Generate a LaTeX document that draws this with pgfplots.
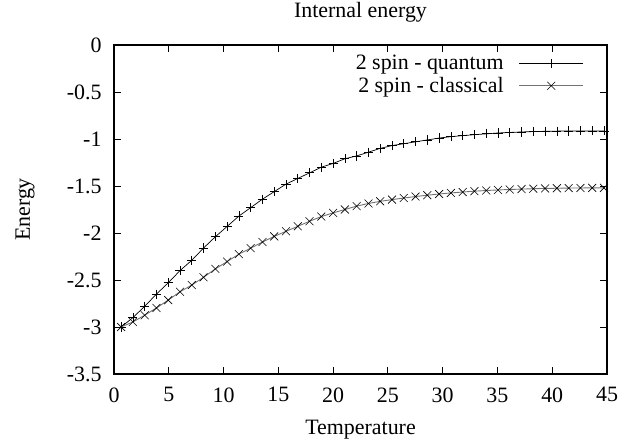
\documentclass[border=0pt]{standalone}
\usepackage{pgfplots}
\usepackage{pgfplotstable}
\pgfplotsset{compat=1.18}
\usepackage{fontspec}
\setmainfont{Liberation Serif}
\newcommand{\ff}{\fontsize{22}{24}\selectfont}
\pgfplotstableread{
T Q C
0.65 -3.00 -3.00
1.725 -2.90 -2.946
2.80 -2.78 -2.875
3.875 -2.65 -2.797
4.95 -2.53 -2.714
6.025 -2.40 -2.625
7.10 -2.29 -2.554
8.175 -2.16 -2.471
9.25 -2.04 -2.382
10.325 -1.93 -2.304
11.40 -1.82 -2.225
12.475 -1.73 -2.161
13.55 -1.64 -2.096
14.625 -1.56 -2.036
15.70 -1.48 -1.982
16.775 -1.42 -1.929
17.85 -1.36 -1.875
18.925 -1.30 -1.825
20.00 -1.26 -1.786
21.075 -1.21 -1.750
22.15 -1.18 -1.714
23.225 -1.14 -1.686
24.30 -1.10 -1.663
25.375 -1.07 -1.645
26.45 -1.05 -1.628
27.525 -1.03 -1.612
28.60 -1.01 -1.598
29.675 -0.99 -1.585
30.75 -0.975 -1.574
31.825 -0.964 -1.564
32.90 -0.954 -1.555
33.975 -0.945 -1.548
35.05 -0.936 -1.542
36.125 -0.930 -1.537
37.20 -0.925 -1.533
38.275 -0.921 -1.529
39.35 -0.918 -1.526
40.425 -0.916 -1.524
41.50 -0.915 -1.522
42.575 -0.914 -1.521
43.65 -0.914 -1.520
44.725 -0.914 -1.520
}\datatable
\begin{document}
\begin{tikzpicture}
\useasboundingbox (0,0) rectangle (643bp,446bp);
\begin{axis}[
  at={(114bp,72bp)}, anchor=south west,
  scale only axis, width=493bp, height=329bp,
  xmin=0, xmax=45, ymin=-3.5, ymax=0,
  xtick={0,5,...,45}, ytick={-3.5,-3,...,0},
  yticklabels={-3.5,-3,-2.5,-2,-1.5,-1,-0.5,0},
  scaled ticks=false,
  /pgf/number format/assume math mode=true,
  tick align=inside, tick pos=both,
  major tick length=7bp,
  axis line style={line width=1.2pt},
  every tick/.style={black, line width=0.8pt},
  tick label style={font=\ff},
  xticklabel style={yshift=-10bp},
  yticklabel style={xshift=-9bp},
  title={Internal energy},
  title style={font=\ff, at={(axis description cs:0.5,1.08)}, anchor=center},
  xlabel={Temperature},
  xlabel style={font=\ff, at={(axis description cs:0.5,-0.17)}, anchor=center},
  ylabel={Energy},
  ylabel style={font=\ff, at={(axis description cs:-0.1805,0.5)}, anchor=center},
  legend style={font=\ff, draw=none, fill=none, at={(0.953,0.975)}, anchor=north east, inner sep=0pt, row sep=2bp,
    /tikz/every odd column/.append style={column sep=13bp}},
  legend plot pos=right,
  legend cell align=right,
  legend image code/.code={
    \draw[mark repeat=2,mark phase=2,#1]
    plot coordinates {(0bp,0bp) (32bp,0bp) (64bp,0bp)};
  },
]
\addplot[black, line width=0.7pt, mark=+, mark size=4.6pt, mark options={black, line width=0.7pt}] table[x=T,y=Q] {\datatable};
\addlegendentry{2 spin - quantum}
\addplot[black!55, line width=0.9pt, mark=x, mark size=5.6pt, mark options={black, line width=0.6pt}] table[x=T,y=C] {\datatable};
\addlegendentry{2 spin - classical}
\end{axis}
\end{tikzpicture}
\end{document}
